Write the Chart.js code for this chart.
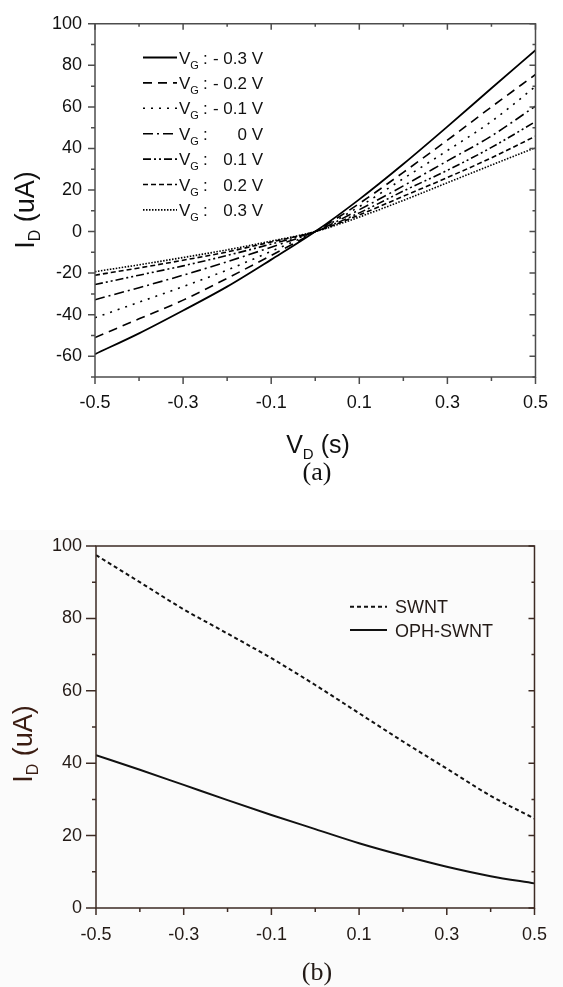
<!DOCTYPE html>
<html>
<head>
<meta charset="utf-8">
<script src="https://cdn.jsdelivr.net/npm/chart.js@4"></script>
<style>
  body { margin: 0; background: #fff; width: 563px; height: 987px; position: relative; overflow: hidden; }
  #wrapA { position: absolute; left: 0; top: 0; }
  #wrapB { position: absolute; left: 0; top: 500px; }
</style>
</head>
<body>
<div id="wrapA"><canvas id="chartA" width="563" height="500"></canvas></div>
<div id="wrapB"><canvas id="chartB" width="563" height="487"></canvas></div>
<script>
// Drain voltage samples (both panels)
const vd = [-0.5, -0.4, -0.3, -0.2, -0.1, 0, 0.1, 0.2, 0.3, 0.4, 0.5];

// Panel (a): one curve per gate voltage
const vgLabels = ['- 0.3 V', '- 0.2 V', '- 0.1 V', '0 V', '0.1 V', '0.2 V', '0.3 V'];
const idVgM03 = [-59, -49, -38, -26.5, -13.5, 0, 15.5, 32.5, 50.5, 69, 87.3];
const idVgM02 = [-51, -42, -33, -22.5, -11.5, 0, 13.5, 28.5, 44, 60, 75.6];
const idVgM01 = [-41.5, -34, -26.5, -18.5, -9.5, 0, 12, 25.5, 39, 53, 69.8];
const idVg00 = [-32.8, -27, -21, -14.5, -7.5, 0, 10.5, 22, 34, 46, 60.4];
const idVg01 = [-25.5, -21, -16.5, -11.5, -6, 0, 9, 19.5, 29.5, 40.5, 52.9];
const idVg02 = [-21, -17.5, -13.8, -9.8, -5, 0, 8, 17, 26, 35.5, 45.9];
const idVg03 = [-19.3, -16, -12.5, -8.8, -4.6, 0, 7, 15, 23.5, 32, 40.4];

// Panel (b)
const seriesB = ['SWNT', 'OPH-SWNT'];
const idSWNT = [97.5, 90, 82.5, 75.8, 69, 61.6, 53.8, 46, 38.5, 31, 24.7];
const idOPH = [42.2, 38.2, 34, 29.8, 25.7, 21.8, 17.9, 14.5, 11.4, 8.8, 6.8];

const SANS = '"Liberation Sans", Arial, sans-serif';
const SERIF = '"Liberation Serif", "Times New Roman", serif';

const dashesA = [[], [9, 6], [2, 6], [10, 4, 2, 4], [8, 3, 2, 3, 2, 3], [5, 3], [1.5, 1.5]];

function pts(ys) {
    return vd.map((x, i) => ({ x: x, y: ys[i] }));
}

// text made of pieces, some of them subscripts
function richWidth(ctx, parts) {
    let w = 0;
    parts.forEach(p => {
        ctx.font = p.size + 'px ' + (p.family || SANS);
        w += ctx.measureText(p.t).width;
    });
    return w;
}

function drawRich(ctx, parts, x, y, align) {
    const w = richWidth(ctx, parts);
    let cx = align === 'center' ? x - w / 2 : (align === 'right' ? x - w : x);
    ctx.textAlign = 'left';
    ctx.textBaseline = 'alphabetic';
    parts.forEach(p => {
        ctx.font = p.size + 'px ' + (p.family || SANS);
        ctx.fillText(p.t, cx, y + (p.dy || 0));
        cx += ctx.measureText(p.t).width;
    });
}

// box around the plot, with outward/inward tick marks
const framePlugin = {
    id: 'frame',
    beforeDraw(chart, args, opts) {
        if (!opts.bg) return;
        const ctx = chart.ctx;
        ctx.save();
        ctx.fillStyle = opts.bg;
        ctx.fillRect(0, opts.bgTop, chart.width, chart.height - opts.bgTop);
        ctx.restore();
    },
    afterDatasetsDraw(chart, args, opts) {
        const { ctx, chartArea: a } = chart;
        const x = chart.scales.x, y = chart.scales.y;
        ctx.save();
        ctx.strokeStyle = opts.color;
        ctx.lineWidth = 1.5;
        ctx.beginPath();
        ctx.rect(a.left, a.top, a.right - a.left, a.bottom - a.top);
        ctx.stroke();
        ctx.beginPath();
        x.ticks.forEach((t, i) => {
            const px = x.getPixelForTick(i);
            const major = !!t.label;
            ctx.moveTo(px, a.bottom);
            ctx.lineTo(px, a.bottom + (major ? opts.xMajor : opts.xMinor));
            if (opts.topTicks) {
                ctx.moveTo(px, a.top);
                ctx.lineTo(px, a.top + (major ? 6 : 3));
            }
        });
        y.ticks.forEach((t, i) => {
            const py = y.getPixelForTick(i);
            const major = !!t.label;
            ctx.moveTo(a.left - (major ? opts.yMajor : opts.yMinor), py);
            ctx.lineTo(a.left, py);
            ctx.moveTo(a.right, py);
            ctx.lineTo(a.right - (major ? 6 : 3), py);
        });
        ctx.stroke();
        ctx.restore();
    },
    afterDraw(chart, args, opts) {
        const ctx = chart.ctx;
        ctx.save();
        ctx.fillStyle = opts.textColor;
        // legend
        const lg = opts.legend;
        chart.data.datasets.forEach((ds, i) => {
            const cy = lg.top + i * lg.gap;
            ctx.strokeStyle = ds.borderColor;
            ctx.lineWidth = ds.borderWidth;
            ctx.setLineDash(ds.borderDash || []);
            ctx.beginPath();
            ctx.moveTo(lg.x1, cy);
            ctx.lineTo(lg.x2, cy);
            ctx.stroke();
            ctx.setLineDash([]);
            lg.draw(ctx, ds.label, cy);
        });
        // y title
        ctx.fillStyle = opts.yTitleColor;
        ctx.save();
        ctx.translate(opts.yTitle.x, opts.yTitle.y);
        ctx.rotate(-Math.PI / 2);
        drawRich(ctx, [
            { t: 'I', size: opts.yTitle.size },
            { t: 'D', size: Math.round(opts.yTitle.size * 0.6), dy: 6 },
            { t: ' (uA)', size: opts.yTitle.size }
        ], 0, 0, 'center');
        ctx.restore();
        ctx.fillStyle = opts.textColor;
        if (opts.xTitle) {
            drawRich(ctx, [
                { t: 'V', size: 25 },
                { t: 'D', size: 15, dy: 6 },
                { t: ' (s)', size: 25 }
            ], opts.xTitle.x, opts.xTitle.y, 'center');
        }
        drawRich(ctx, [{ t: opts.panel.t, size: 26, family: SERIF }], opts.panel.x, opts.panel.y, 'center');
        ctx.restore();
    }
};

function xAxis(height, pad, color) {
    return {
        type: 'linear', min: -0.5, max: 0.5,
        grid: { display: false, drawTicks: false },
        border: { display: false },
        ticks: {
            stepSize: 0.1, autoSkip: false, padding: pad, color: color,
            font: { family: SANS, size: 18 },
            callback: v => (Math.abs(Math.round(v * 10)) % 2 === 1 ? (Math.round(v * 10) / 10).toFixed(1) : '')
        },
        afterFit: s => { s.height = height; }
    };
}

function yAxis(min, max, width, pad, color) {
    return {
        type: 'linear', min: min, max: max,
        grid: { display: false, drawTicks: false },
        border: { display: false },
        ticks: {
            stepSize: 10, autoSkip: false, padding: pad, color: color,
            font: { family: SANS, size: 18 },
            callback: v => (Math.round(v) % 20 === 0 ? String(Math.round(v)) : '')
        },
        afterFit: s => { s.width = width; }
    };
}

const seriesA = [idVgM03, idVgM02, idVgM01, idVg00, idVg01, idVg02, idVg03];

new Chart(document.getElementById('chartA'), {
    type: 'line',
    data: {
        datasets: seriesA.map((ys, i) => ({
            label: vgLabels[i],
            data: pts(ys),
            borderColor: '#000',
            borderWidth: i === 0 ? 1.8 : 1.6,
            borderDash: dashesA[i],
            pointRadius: 0,
            cubicInterpolationMode: 'monotone',
            fill: false
        }))
    },
    options: {
        responsive: false,
        animation: false,
        layout: { padding: { left: 0, top: 15, right: 18, bottom: 0 } },
        plugins: {
            legend: { display: false },
            tooltip: { enabled: false },
            frame: {
                color: '#4d4d4d', textColor: '#111', yTitleColor: '#111',
                xMajor: 7, xMinor: 4, yMajor: 7, yMinor: 4, topTicks: true,
                legend: {
                    x1: 143, x2: 177, top: 57.5, gap: 25.4,
                    draw: (ctx, label, cy) => {
                        drawRich(ctx, [
                            { t: 'V', size: 17 },
                            { t: 'G', size: 11, dy: 5 }
                        ], 179, cy + 6, 'left');
                        drawRich(ctx, [{ t: ':', size: 17 }], 203, cy + 6, 'left');
                        drawRich(ctx, [{ t: label, size: 17 }], 263, cy + 6, 'right');
                    }
                },
                yTitle: { x: 34, y: 210, size: 27 },
                xTitle: { x: 318, y: 453 },
                panel: { t: '(a)', x: 317, y: 480 }
            }
        },
        scales: {
            x: xAxis(123, 15, '#111'),
            y: yAxis(-70, 100, 95, 13, '#111')
        }
    },
    plugins: [framePlugin]
});

new Chart(document.getElementById('chartB'), {
    type: 'line',
    data: {
        datasets: [idSWNT, idOPH].map((ys, i) => ({
            label: seriesB[i],
            data: pts(ys),
            borderColor: '#111',
            borderWidth: 2,
            borderDash: i === 0 ? [4, 3] : [],
            pointRadius: 0,
            cubicInterpolationMode: 'monotone',
            fill: false
        }))
    },
    options: {
        responsive: false,
        animation: false,
        layout: { padding: { left: 0, top: 46, right: 19, bottom: 0 } },
        plugins: {
            legend: { display: false },
            tooltip: { enabled: false },
            frame: {
                bg: '#fbfbfb', bgTop: 30,
                color: '#3d2b24', textColor: '#231a16', yTitleColor: '#3a1c12',
                xMajor: 7, xMinor: 4, yMajor: 10, yMinor: 4, topTicks: false,
                legend: {
                    x1: 350, x2: 387, top: 106.7, gap: 23.3,
                    draw: (ctx, label, cy) => {
                        drawRich(ctx, [{ t: label, size: 18 }], 395, cy + 6.5, 'left');
                    }
                },
                yTitle: { x: 32, y: 244, size: 27 },
                xTitle: null,
                panel: { t: '(b)', x: 317, y: 480 }
            }
        },
        scales: {
            x: xAxis(79, 16, '#231a16'),
            y: yAxis(0, 100, 96, 14, '#231a16')
        }
    },
    plugins: [framePlugin]
});
</script>
</body>
</html>
